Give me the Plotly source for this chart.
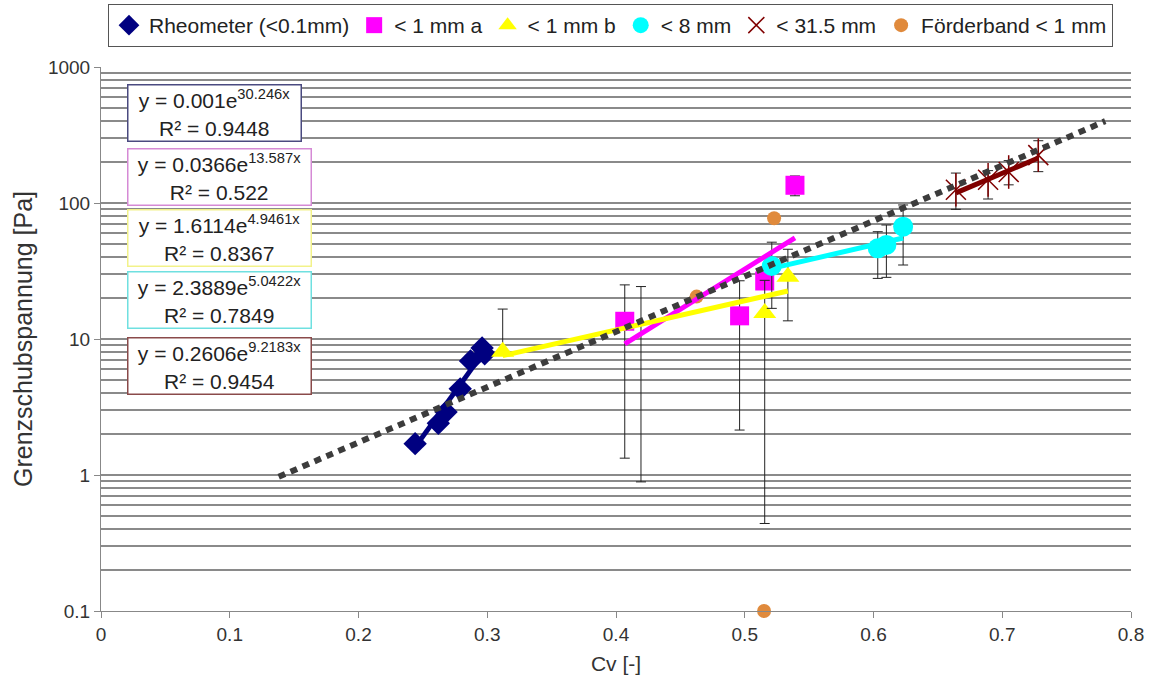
import numpy as np
import plotly.graph_objects as go

# ---------------- data ----------------
rheo_x = [0.244, 0.262, 0.268, 0.279, 0.287, 0.296, 0.298]
rheo_y = [1.7, 2.4, 2.9, 4.3, 6.9, 8.6, 7.8]

a_x = [0.4068, 0.496, 0.5155, 0.539]
a_y = [13.5, 14.8, 26.7, 135]
a_top = [25.0, 26.8, 29.0, 158]
a_bot = [1.33, 2.14, 24.5, 113]

b_x = [0.312, 0.5155, 0.5335]
b_y = [8.06, 15.5, 28.7]
b_top = [16.6, 27.0, 45.7]
b_bot = [7.6, 0.44, 13.6]

hid_x = [0.4194]
hid_y = [12.5]
hid_top = [24.3]
hid_bot = [0.89]

c_x = [0.521, 0.6033, 0.61, 0.623]
c_y = [34.4, 46.4, 49.2, 67]
c_top = [51.5, 61.5, 68.9, 96.7]
c_bot = [16.8, 27.9, 28.4, 35.0]

d_x = [0.664, 0.689, 0.705, 0.728]
d_y = [125, 148, 169, 225]
d_top = [166, 173, 205, 287]
d_bot = [89.8, 107, 136, 170]

f_x = [0.4626, 0.5228, 0.515]
f_y = [20.5, 77.2, 0.1]

# trend coefficients (shown on chart)  y = a * exp(b x)
trend_rheo = (0.001, 30.246)
trend_a = (0.0366, 13.587)
trend_b = (1.6114, 4.9461)
trend_c = (2.3889, 5.0422)
trend_d = (0.2606, 9.2183)
# overall trend line end points
all_x = [0.138, 0.78]
all_y = [0.97, 400]

eq_texts = [
    ("y = 0.001e<sup>30.246x</sup><br>R² = 0.9448", "#4a4a80"),
    ("y = 0.0366e<sup>13.587x</sup><br>R² = 0.522", "#d58ad5"),
    ("y = 1.6114e<sup>4.9461x</sup><br>R² = 0.8367", "#f2f28a"),
    ("y = 2.3889e<sup>5.0422x</sup><br>R² = 0.7849", "#6fe0e0"),
    ("y = 0.2606e<sup>9.2183x</sup><br>R² = 0.9454", "#8a4a4a"),
]

NAVY = "#000080"
MAG = "#FF00FF"
YEL = "#FFFF00"
CYA = "#00FFFF"
DRED = "#800000"
ORA = "#E08A3C"

FONT = "Liberation Sans, Arial, sans-serif"

fig = go.Figure()


def err(y, top, bot):
    y = np.array(y, float)
    return dict(type="data", symmetric=False,
                array=list(np.array(top) - y), arrayminus=list(y - np.array(bot)),
                color="#222222", thickness=1, width=5)


def trend(xs, coef, color, width=5):
    x0, x1 = min(xs), max(xs)
    xx = [x0, x1]
    yy = [coef[0] * np.exp(coef[1] * v) for v in xx]
    fig.add_trace(go.Scatter(x=xx, y=yy, mode="lines", showlegend=False,
                             line=dict(color=color, width=width), hoverinfo="skip"))


# markers
fig.add_trace(go.Scatter(x=rheo_x, y=rheo_y, mode="markers", name="Rheometer (<0.1mm)",
                         marker=dict(symbol="diamond", size=18, color=NAVY)))
fig.add_trace(go.Scatter(x=a_x, y=a_y, mode="markers", name="< 1 mm a",
                         marker=dict(symbol="square", size=19, color=MAG),
                         error_y=err(a_y, a_top, a_bot)))
fig.add_trace(go.Scatter(x=b_x, y=b_y, mode="markers", name="< 1 mm b",
                         marker=dict(symbol="triangle-up", size=20, color=YEL),
                         error_y=err(b_y, b_top, b_bot)))
fig.add_trace(go.Scatter(x=hid_x, y=hid_y, mode="markers", showlegend=False,
                         marker=dict(size=1, color="rgba(0,0,0,0)"),
                         error_y=err(hid_y, hid_top, hid_bot)))
fig.add_trace(go.Scatter(x=c_x, y=c_y, mode="markers", name="< 8 mm",
                         marker=dict(symbol="circle", size=20, color=CYA),
                         error_y=err(c_y, c_top, c_bot)))
fig.add_trace(go.Scatter(x=d_x, y=d_y, mode="markers", name="< 31.5 mm",
                         marker=dict(symbol="x-thin-open", size=20, color=DRED,
                                     line=dict(color=DRED, width=1.5)),
                         error_y=err(d_y, d_top, d_bot)))
fig.add_trace(go.Scatter(x=d_x, y=d_y, mode="markers", showlegend=False,
                         marker=dict(symbol="line-ns-open", size=24, color=DRED,
                                     line=dict(color=DRED, width=1.5))))
fig.add_trace(go.Scatter(x=f_x, y=f_y, mode="markers", name="Förderband < 1 mm",
                         cliponaxis=False,
                         marker=dict(symbol="circle", size=14, color=ORA)))

# trend lines
trend(rheo_x, trend_rheo, NAVY)
trend(a_x, trend_a, MAG)
trend(b_x, trend_b, YEL)
trend(c_x, trend_c, CYA)
trend(d_x, trend_d, DRED, width=5)
fig.add_trace(go.Scatter(x=all_x, y=all_y, mode="lines", showlegend=False,
                         line=dict(color="#3c3c3c", width=6, dash="7px,6px"),
                         hoverinfo="skip"))

# ---------------- layout ----------------
L, R, T, B = 101, 18, 67, 73
W, H = 1149, 684
pw, ph = W - L - R, H - T - B


def px_x(p):
    return (p - L) / pw


def px_y(p):
    return (H - B - p) / ph


minor_vals = [m * 10 ** e for e in range(-1, 3) for m in range(2, 10)]

fig.update_layout(
    width=W, height=H,
    margin=dict(l=L, r=R, t=T, b=B, autoexpand=False),
    paper_bgcolor="white", plot_bgcolor="white",
    font=dict(family=FONT, size=18, color="#222222"),
    showlegend=True,
    legend=dict(orientation="h", x=px_x(108), y=px_y(4), xanchor="left", yanchor="top",
                bordercolor="#555555", borderwidth=1, bgcolor="white",
                font=dict(size=21, family=FONT, color="#222222"),
                itemwidth=30, tracegroupgap=0),
    xaxis=dict(range=[0, 0.8], dtick=0.1, tick0=0, showgrid=False, zeroline=False,
               ticks="outside", ticklen=6, tickcolor="#888888",
               showline=True, linecolor="#888888", linewidth=1,
               tickfont=dict(size=19, color="#333333"),
               title=dict(text="Cv [-]", font=dict(size=21, color="#333333"), standoff=12)),
    yaxis=dict(type="log", range=[-1, 3],
               tickvals=[0.1, 1, 10, 100, 1000], ticktext=["0.1", "1", "10", "100", "1000"],
               ticks="outside", ticklen=6, tickcolor="#888888",
               showline=True, linecolor="#888888", linewidth=1,
               showgrid=True, gridcolor="#8a8a8a", gridwidth=1.5,
               minor=dict(tickvals=minor_vals, showgrid=True, gridcolor="#8a8a8a",
                          gridwidth=1.5, ticks=""),
               zeroline=False,
               tickfont=dict(size=19, color="#333333"),
               title=dict(text="Grenzschubspannung [Pa]", font=dict(size=25, color="#333333"),
                          standoff=8)),
)

box_tops = [84, 148, 209, 271, 337]
box_w = [170, 180, 180, 180, 180]
for (txt, col), top, bw in zip(eq_texts, box_tops, box_w):
    fig.add_annotation(xref="paper", yref="paper", x=px_x(127), y=px_y(top),
                       xanchor="left", yanchor="top", text=txt, showarrow=False,
                       align="center", width=bw, height=53,
                       bordercolor=col, borderwidth=1.5, borderpad=1, bgcolor="white",
                       font=dict(size=21, family=FONT, color="#222222"))

fig.write_html("out.html", config={"displayModeBar": False},
               post_script="document.body.style.margin='0';")
